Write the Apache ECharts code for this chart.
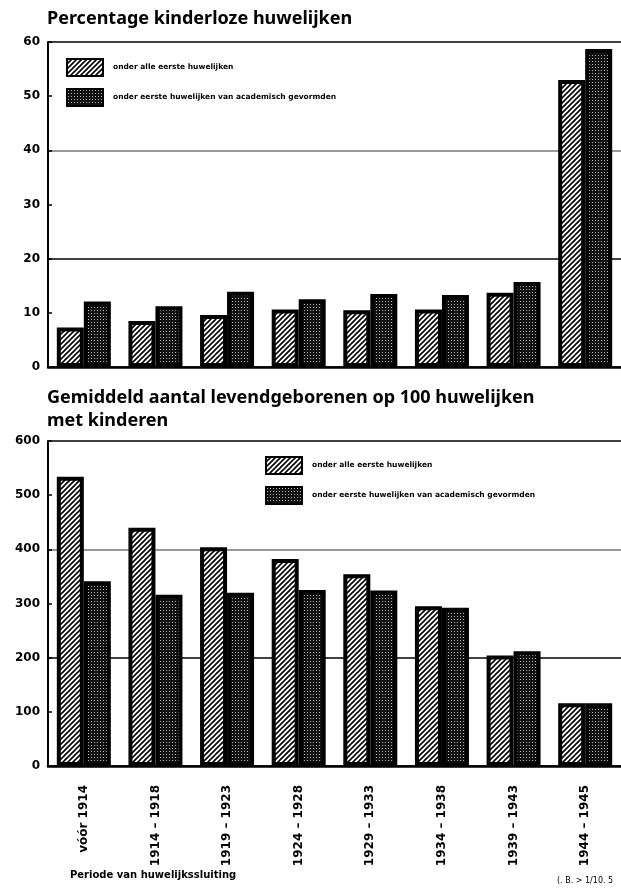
<!DOCTYPE html>
<html>
<head>
<meta charset="utf-8">
<script src="https://cdn.jsdelivr.net/npm/echarts@6/dist/echarts.min.js"></script>
<style>
html,body{margin:0;padding:0;background:#fff;}
#c{width:621px;height:891px;}
</style>
</head>
<body>
<div id="c"></div>
<script>
const categories = ['vóór 1914','1914 – 1918','1919 – 1923','1924 – 1928','1929 – 1933','1934 – 1938','1939 – 1943','1944 – 1945'];
const seriesNames = ['onder alle eerste huwelijken','onder eerste huwelijken van academisch gevormden'];
const kinderlozeAlle = [7.3, 8.5, 9.6, 10.6, 10.5, 10.6, 13.7, 53];
const kinderlozeAcad = [12.1, 11.2, 13.9, 12.5, 13.5, 13.3, 15.7, 58.7];
const geborenAlle = [534, 440, 404, 382, 354, 295, 204, 116];
const geborenAcad = [341, 316, 320, 325, 324, 292, 212, 116];
const titleTop = 'Percentage kinderloze huwelijken';
const titleBottom = 'Gemiddeld aantal levendgeborenen op 100 huwelijken\nmet kinderen';
const xAxisTitle = 'Periode van huwelijkssluiting';
const sourceNote = '(. B. > 1/10. 5';

function hatchPattern(){
  const c=document.createElement('canvas'); c.width=5; c.height=5;
  const g=c.getContext('2d');
  g.fillStyle='#fff'; g.fillRect(0,0,5,5);
  g.strokeStyle='#000'; g.lineWidth=1.6;
  g.beginPath();
  g.moveTo(0,5); g.lineTo(5,0);
  g.moveTo(-1,1); g.lineTo(1,-1);
  g.moveTo(4,6); g.lineTo(6,4);
  g.stroke();
  return c;
}
function dotPattern(){
  const c=document.createElement('canvas'); c.width=3; c.height=3;
  const g=c.getContext('2d');
  g.fillStyle='#111'; g.fillRect(0,0,3,3);
  g.fillStyle='#b0b0b0'; g.fillRect(1,1,1,1);
  return c;
}
const hatch={image:hatchPattern(),repeat:'repeat'};
const dots={image:dotPattern(),repeat:'repeat'};

const chart=echarts.init(document.getElementById('c'),null,{renderer:'canvas'});
const fontMain='DejaVu Sans';
const legendBase={orient:'vertical',itemWidth:36,itemHeight:17,itemGap:11,icon:'rect',padding:0,
  selectedMode:false,data:seriesNames,
  textStyle:{fontSize:7.5,fontWeight:'bold',color:'#000',fontFamily:fontMain,padding:[0,0,0,5]}};
function valueAxis(grid,max,interval,showLab){
  return {type:'value',gridIndex:grid,min:0,max:max,interval:interval,position:'left',
    axisLine:{show:showLab,lineStyle:{color:'#000',width:2}},
    axisTick:{show:showLab,inside:true,length:4,lineStyle:{color:'#000',width:1.5}},
    axisLabel:{show:showLab,color:'#000',fontSize:12,fontWeight:'bold',fontFamily:fontMain,margin:8},
    splitLine:{show:!showLab,lineStyle:{color:['#000','#000','#777','#000'],width:1.5}}};
}
function barSeries(name,data,xi,yi,color){
  return {type:'bar',name:name,data:data,xAxisIndex:xi,yAxisIndex:yi,barWidth:27,barGap:'0%',
    itemStyle:{color:color,borderColor:'#000',borderWidth:4},z:3};
}
chart.setOption({
  animation:false,
  backgroundColor:'#fff',
  title:[
    {text:titleTop,left:47,top:10,padding:0,textStyle:{fontSize:18,fontWeight:'bold',color:'#000',fontFamily:'Noto Sans'}},
    {text:titleBottom,left:47,top:386,padding:0,textStyle:{fontSize:18,fontWeight:'bold',color:'#000',fontFamily:'Noto Sans',lineHeight:23}},
    {text:xAxisTitle,left:70,top:870,padding:0,textStyle:{fontSize:10,fontWeight:'bold',color:'#000',fontFamily:fontMain}},
    {text:sourceNote,left:557,top:877,padding:0,textStyle:{fontSize:8,fontWeight:'normal',color:'#000',fontFamily:fontMain}}
  ],
  legend:[
    Object.assign({left:66,top:58},legendBase),
    Object.assign({left:265,top:456},legendBase)
  ],
  grid:[
    {left:48,top:42,width:581,height:325},
    {left:48,top:441,width:581,height:325}
  ],
  xAxis:[
    {type:'category',gridIndex:0,data:categories,
      axisLine:{lineStyle:{color:'#000',width:2.5}},axisTick:{show:false},axisLabel:{show:false}},
    {type:'category',gridIndex:1,data:categories,
      axisLine:{lineStyle:{color:'#000',width:2.5}},axisTick:{show:false},
      axisLabel:{rotate:90,margin:19,color:'#000',fontSize:12,fontFamily:fontMain,fontWeight:'bold'}}
  ],
  yAxis:[
    valueAxis(0,60,10,true),
    valueAxis(0,60,20,false),
    valueAxis(1,600,100,true),
    valueAxis(1,600,200,false)
  ],
  series:[
    barSeries(seriesNames[0],kinderlozeAlle,0,0,hatch),
    barSeries(seriesNames[1],kinderlozeAcad,0,0,dots),
    barSeries(seriesNames[0],geborenAlle,1,2,hatch),
    barSeries(seriesNames[1],geborenAcad,1,2,dots)
  ]
});
</script>
</body>
</html>
